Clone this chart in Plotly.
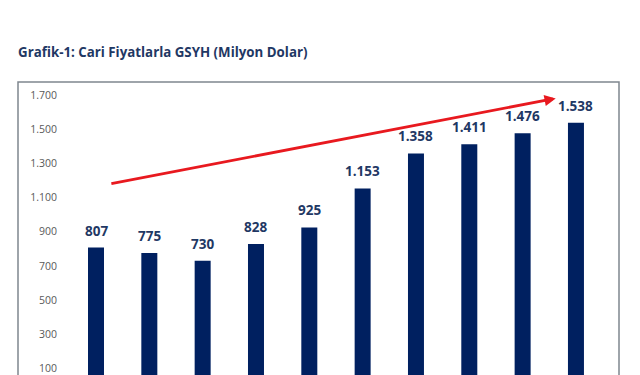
import plotly.graph_objects as go

years = ["2010", "2011", "2012", "2013", "2014", "2015", "2016", "2017", "2018", "2019"]
gdp = [807, 775, 730, 828, 925, 1153, 1358, 1411, 1476, 1538]
gdp_labels = ["807", "775", "730", "828", "925", "1.153", "1.358", "1.411", "1.476", "1.538"]
tick_vals = [100, 300, 500, 700, 900, 1100, 1300, 1500, 1700]
tick_text = ["100", "300", "500", "700", "900", "1.100", "1.300", "1.500", "1.700"]

W, H = 640, 375
L, R, T, B = 62, 21, 82, 0

fig = go.Figure()
fig.add_trace(go.Bar(
    x=list(range(len(years))), y=gdp, width=0.3,
    marker=dict(color="#002060", line=dict(width=0)),
    hovertext=years,
))

for i, (v, lab) in enumerate(zip(gdp, gdp_labels)):
    fig.add_annotation(x=i, y=v, text=lab, showarrow=False, yanchor="bottom", yshift=6,
                       font=dict(family="Open Sans", size=13.5, color="#1f3864", weight="bold"))

# trend arrow
fig.add_annotation(
    x=8.62, y=1680, ax=0.26, ay=1180, xref="x", yref="y", axref="x", ayref="y",
    showarrow=True, arrowhead=2, arrowsize=0.8, arrowwidth=2.8, arrowcolor="#e8191f", text="",
)

pw = W - L - R
ph = H - T - B
fig.add_shape(type="rect", xref="paper", yref="paper",
              x0=(18 - L) / pw, x1=(619 - L) / pw, y0=-0.2, y1=1.0,
              line=dict(color="#7f868f", width=1.5), layer="above")

fig.add_annotation(
    text="Grafik-1: Cari Fiyatlarla GSYH (Milyon Dolar)", xref="paper", yref="paper",
    x=(16 - L) / pw, y=1 + (82 - 52) / ph, xanchor="left", yanchor="middle", showarrow=False,
    font=dict(family="Open Sans", size=13.3, color="#1f3864", weight="bold"),
)

fig.update_layout(
    width=W, height=H, margin=dict(l=L, r=R, t=T, b=B, pad=0),
    paper_bgcolor="white", plot_bgcolor="white", showlegend=False,
    xaxis=dict(range=[-0.6375, 9.807], showticklabels=False, showgrid=False, zeroline=False,
               showline=False, ticks=""),
    yaxis=dict(range=[61, 1776], tickvals=tick_vals, ticktext=tick_text, showgrid=False,
               zeroline=False, showline=False, ticks="", ticklabelstandoff=4,
               ticklabeloverflow="allow",
               tickfont=dict(family="Open Sans", size=10.5, color="#595959")),
)

fig.write_html("out.html", config={"displayModeBar": False},
               post_script="document.body.style.margin='0';document.body.style.overflow='hidden';")
